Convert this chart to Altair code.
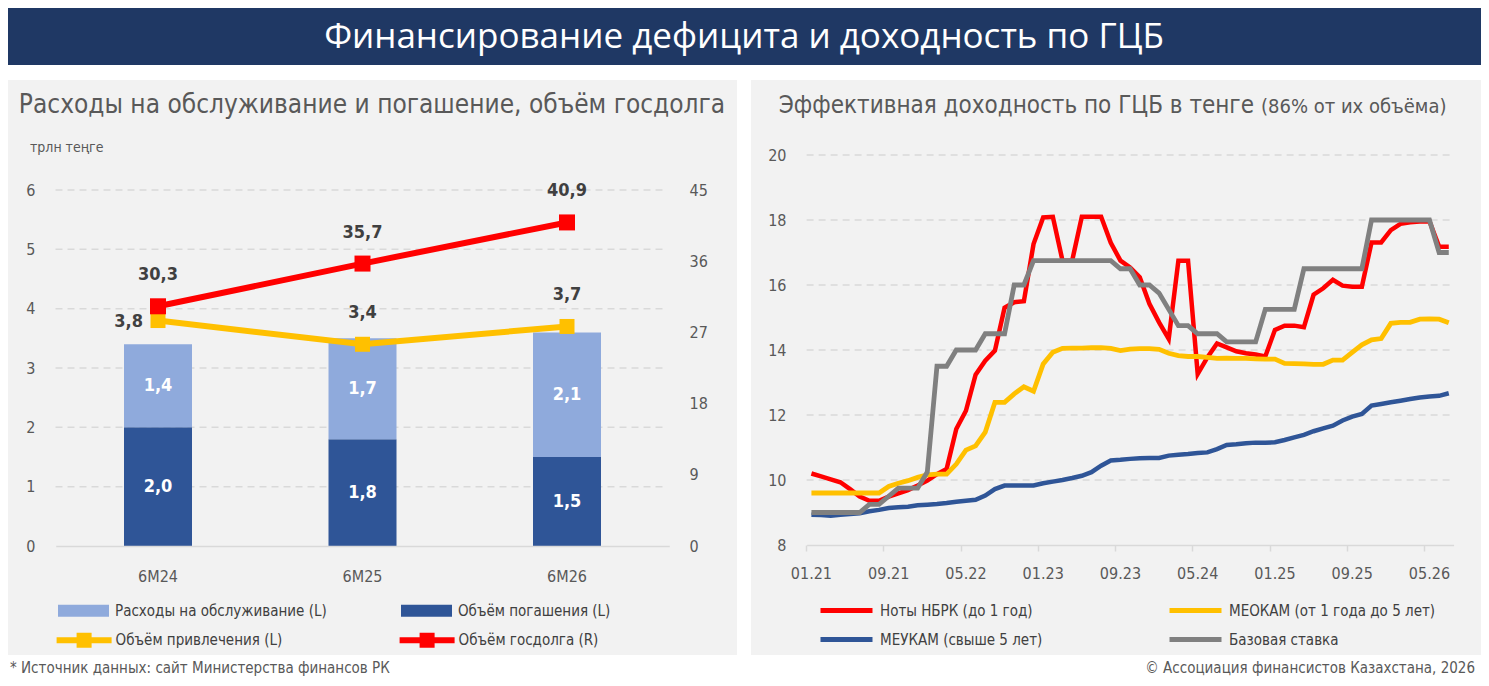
import altair as alt
import pandas as pd

COND = "'Liberation Sans Narrow', 'DejaVu Sans Condensed', 'Roboto Condensed', Roboto, sans-serif"
HEAD = "'Open Sans', 'Noto Sans', sans-serif"
GRAY_TXT = "#595959"
DARK_TXT = "#404040"
GRID = "#D9D9D9"

# ---------------- left chart data ----------------
periods = ["6M24", "6M25", "6M26"]
service_costs = [1.4, 1.7, 2.1]      # Расходы на обслуживание (L)
repayment = [2.0, 1.8, 1.5]          # Объём погашения (L)
borrowing = [3.8, 3.4, 3.7]          # Объём привлечения (L)
gov_debt = [30.3, 35.7, 40.9]        # Объём госдолга (R)
left_y_ticks = [0, 1, 2, 3, 4, 5, 6]
right_y_ticks = [0, 9, 18, 27, 36, 45]

SERVICE = "Расходы на обслуживание (L)"
REPAY = "Объём погашения (L)"
BORROW = "Объём привлечения (L)"
DEBT = "Объём госдолга (R)"

# ---------------- right chart data (monthly, 01.21 - 07.26) ----------------
months = [f"{y}-{m:02d}" for y in range(2021, 2027) for m in range(1, 13)][:67]
tick_months = ["2021-01", "2021-09", "2022-05", "2023-01", "2023-09",
               "2024-05", "2025-01", "2025-09", "2026-05"]
yield_ticks = [8, 10, 12, 14, 16, 18, 20]

notes = [10.2, 10.11, 10.02, 9.93, 9.72, 9.49, 9.36, 9.36, 9.49, 9.59, 9.69, 9.83,
         9.98, 10.18, 10.34, 11.57, 12.13, 13.24, 13.67, 13.98, 15.3, 15.47, 15.5, 17.26,
         18.08, 18.1, 16.75, 16.75, 18.1, 18.1, 18.1, 17.3, 16.75, 16.54, 16.24, 15.42,
         14.85, 14.34, 16.75, 16.75, 13.26, 13.77, 14.2, 14.08, 13.96, 13.9, 13.86, 13.8,
         14.62, 14.75, 14.75, 14.7, 15.7, 15.9, 16.16, 15.98, 15.95, 15.95, 17.31, 17.31,
         17.69, 17.88, 17.93, 17.95, 17.96, 17.18, 17.18]
meokam = [9.6, 9.6, 9.6, 9.6, 9.6, 9.6, 9.6, 9.6, 9.8, 9.9, 9.98, 10.08,
          10.16, 10.18, 10.18, 10.49, 10.92, 11.05, 11.47, 12.39, 12.39, 12.65, 12.87, 12.73,
          13.57, 13.93, 14.05, 14.06, 14.06, 14.07, 14.07, 14.05, 13.98, 14.03, 14.04, 14.04,
          14.02, 13.9, 13.83, 13.8, 13.8, 13.77, 13.74, 13.75, 13.74, 13.74, 13.73, 13.72,
          13.72, 13.59, 13.58, 13.57, 13.56, 13.56, 13.69, 13.69, 13.93, 14.16, 14.31, 14.35,
          14.82, 14.85, 14.85, 14.95, 14.96, 14.95, 14.84]
meukam = [8.93, 8.92, 8.9, 8.93, 8.95, 8.98, 9.04, 9.08, 9.14, 9.16, 9.18, 9.22,
          9.24, 9.26, 9.29, 9.33, 9.36, 9.39, 9.52, 9.72, 9.83, 9.83, 9.83, 9.83,
          9.9, 9.95, 10.0, 10.06, 10.13, 10.24, 10.44, 10.6, 10.62, 10.65, 10.67, 10.68,
          10.68, 10.75, 10.78, 10.8, 10.83, 10.85, 10.95, 11.08, 11.1, 11.13, 11.15, 11.15,
          11.16, 11.23, 11.31, 11.39, 11.5, 11.59, 11.67, 11.83, 11.95, 12.03, 12.29, 12.34,
          12.39, 12.44, 12.49, 12.54, 12.57, 12.59, 12.67]
base_rate = [9.0, 9.0, 9.0, 9.0, 9.0, 9.0, 9.25, 9.25, 9.5, 9.75, 9.75, 9.75,
             10.25, 13.5, 13.5, 14.0, 14.0, 14.0, 14.5, 14.5, 14.5, 16.0, 16.0, 16.75,
             16.75, 16.75, 16.75, 16.75, 16.75, 16.75, 16.75, 16.75, 16.5, 16.5, 16.0, 16.0,
             15.75, 15.25, 14.75, 14.75, 14.5, 14.5, 14.5, 14.25, 14.25, 14.25, 14.25, 15.25,
             15.25, 15.25, 15.25, 16.5, 16.5, 16.5, 16.5, 16.5, 16.5, 16.5, 18.0, 18.0,
             18.0, 18.0, 18.0, 18.0, 18.0, 17.0, 17.0]

NOTES = "Ноты НБРК (до 1 год)"
MEOKAM = "МЕОКАМ (от 1 года до 5 лет)"
MEUKAM = "МЕУКАМ (свыше 5 лет)"
BASE = "Базовая ставка"

# ---------------- tables ----------------
bar_rows = []
for p, s, r in zip(periods, service_costs, repayment):
    bar_rows.append({"period": p, "series": REPAY, "v": r, "k": 0})
    bar_rows.append({"period": p, "series": SERVICE, "v": s, "k": 1})
bar_df = pd.DataFrame(bar_rows)
left_df = pd.DataFrame({"period": periods, "borrow": borrowing, "debt": gov_debt})

right_rows = []
for i, m in enumerate(months):
    right_rows.append({"month": m, "series": NOTES, "v": notes[i]})
    right_rows.append({"month": m, "series": MEUKAM, "v": meukam[i]})
    right_rows.append({"month": m, "series": MEOKAM, "v": meokam[i]})
    right_rows.append({"month": m, "series": BASE, "v": base_rate[i]})
right_df = pd.DataFrame(right_rows)

one = alt.Data(values=[{"k": 1}])


def rect(x1, x2, y1, y2, color):
    return alt.Chart(one).mark_rect(color=color).encode(
        x=alt.value(x1), x2=alt.value(x2), y=alt.value(y1), y2=alt.value(y2))


def label(text, x, y, size, font=COND, color=GRAY_TXT, align="left", weight="normal"):
    return alt.Chart(one).mark_text(text=text, font=font, fontSize=size, color=color,
                                    align=align, baseline="middle", fontWeight=weight).encode(
        x=alt.value(x), y=alt.value(y))


J = 1246
background = [
    rect(0, 1473, 0, 57, "#1F3864"),
    rect(0, 729, 72, 647, "#F2F2F2"),
    rect(743, 1473, 72, 647, "#F2F2F2"),
    label("Финансирование дефицита и доходность по ГЦБ", 736, 29, 35, HEAD, "white", "center"),
    label("Расходы на обслуживание и погашение, объём госдолга", 364, 97, 26, COND, GRAY_TXT, "center"),
    label("трлн теңге", 22, 140, 14),
    label("Эффективная доходность по ГЦБ в тенге", J, 98, 24, COND, GRAY_TXT, "right"),
    label("(86% от их объёма)", J + 7, 99, 20, COND, GRAY_TXT, "left"),
    label("* Источник данных: сайт Министерства финансов РК", 2, 660, 15),
    label("© Ассоциация финансистов Казахстана, 2026", 1467, 660, 15, align="right"),
]

AX_FONT = 16
LEG_FONT = 15
VAL_FONT = 18

# ---------------- left chart ----------------
XL = alt.X("period:N", title=None,
           scale=alt.Scale(type="band", domain=periods, range=[47.75, 661.25],
                           paddingInner=0.6675, paddingOuter=0.33375),
           axis=alt.Axis(orient="bottom", offset=-132, domain=True, domainColor=GRID, domainWidth=1.5,
                         ticks=False, tickSize=0, labelPadding=22, labelAngle=0, labelFont=COND,
                         labelFontSize=AX_FONT, labelColor=GRAY_TXT, grid=False, title=None, zindex=1))
YL_scale = alt.Scale(domain=[0, 6], range=[538, 182], nice=False, zero=False)
YL_axis = alt.Axis(orient="left", offset=-27, values=left_y_ticks, domain=False, ticks=False, tickSize=0,
                   labelPadding=0, grid=False, labelFont=COND, labelFontSize=AX_FONT,
                   labelColor=GRAY_TXT, title=None, zindex=1)
YR_scale = alt.Scale(domain=[0, 45], range=[538, 182], nice=False, zero=False)
YR_axis = alt.Axis(orient="right", offset=-792, values=right_y_ticks, domain=False, ticks=False, tickSize=0,
                   labelPadding=0, grid=False, labelFont=COND, labelFontSize=AX_FONT, labelColor=GRAY_TXT,
                   title=None, zindex=1)


def yl(field):
    return alt.Y(field, scale=YL_scale, axis=YL_axis, title=None)


left_grid = alt.Chart(pd.DataFrame({"t": left_y_ticks[1:]})).mark_rule(
    color=GRID, strokeDash=[7, 5], strokeWidth=1.5).encode(
    y=yl("t:Q"), x=alt.value(47.5), x2=alt.value(657.5))

bar_base = alt.Chart(bar_df).transform_stack(
    stack="v", groupby=["period"], sort=[alt.SortField("k", order="ascending")], as_=["y0", "y1"]
).transform_calculate(mid="(datum.y0 + datum.y1) / 2",
                      lab="replace(format(datum.v, '.1f'), '.', ',')")

bars = bar_base.mark_bar().encode(
    x=XL,
    y=yl("y0:Q"),
    y2="y1:Q",
    color=alt.Color("series:N", scale=alt.Scale(domain=[SERVICE, REPAY], range=["#8FAADC", "#2F5597"]),
                    legend=alt.Legend(orient="none", legendX=50, legendY=577, direction="horizontal",
                                      columns=2, columnPadding=74, title=None,
                                      symbolType="M-1,-0.235H1V0.235H-1Z", symbolSize=2601,
                                      symbolStrokeWidth=0, labelFont=COND, labelFontSize=LEG_FONT,
                                      labelColor=DARK_TXT, labelLimit=600, labelOffset=6, padding=0)),
)
bar_labels = bar_base.mark_text(color="white", font=COND, fontSize=VAL_FONT, fontWeight="bold",
                                baseline="middle").encode(x=XL, y=yl("mid:Q"), text="lab:N")

FILL = alt.Fill("name:N", scale=alt.Scale(domain=[BORROW, DEBT], range=["#FFC000", "#FF0000"]),
                legend=alt.Legend(orient="none", legendX=48.6, legendY=604.5, direction="horizontal",
                                  columns=2, columnPadding=117, title=None,
                                  symbolType="M-1,-0.109H1V0.109H-1Z M-0.273,-0.273H0.273V0.273H-0.273Z",
                                  symbolSize=3025, symbolStrokeWidth=0, labelFont=COND,
                                  labelFontSize=LEG_FONT, labelColor=DARK_TXT, labelLimit=600,
                                  labelOffset=4, padding=0))

lbase = alt.Chart(left_df).transform_calculate(
    bl="replace(format(datum.borrow, '.1f'), '.', ',')",
    dl="replace(format(datum.debt, '.1f'), '.', ',')",
)
y_borrow = yl("borrow:Q")
yline = lbase.mark_line(color="#FFC000", strokeWidth=6).encode(x=XL, y=y_borrow)
ypoints = lbase.transform_calculate(name=f"'{BORROW}'").mark_square(size=225, opacity=1).encode(
    x=XL, y=y_borrow, fill=FILL)
ylab_first = lbase.transform_filter("datum.period == '6M24'").mark_text(
    font=COND, fontSize=VAL_FONT, fontWeight="bold", color=DARK_TXT, align="right", dx=-15, dy=1,
    baseline="middle").encode(x=XL, y=y_borrow, text="bl:N")
ylab_rest = lbase.transform_filter("datum.period != '6M24'").mark_text(
    font=COND, fontSize=VAL_FONT, fontWeight="bold", color=DARK_TXT, dy=-31,
    baseline="middle").encode(x=XL, y=y_borrow, text="bl:N")

y_debt = alt.Y("debt:Q", scale=YR_scale, axis=YR_axis, title=None)
rline = lbase.mark_line(color="#FF0000", strokeWidth=6).encode(x=XL, y=y_debt)
rpoints = lbase.transform_calculate(name=f"'{DEBT}'").mark_square(size=256, opacity=1).encode(
    x=XL, y=y_debt, fill=FILL)
rlab = lbase.mark_text(font=COND, fontSize=VAL_FONT, fontWeight="bold", color=DARK_TXT, dy=-31,
                       baseline="middle").encode(x=XL, y=y_debt, text="dl:N")

left = alt.layer(
    alt.layer(left_grid, bars, bar_labels, yline, ypoints, ylab_first, ylab_rest),
    alt.layer(rline, rpoints, rlab),
).resolve_scale(y="independent")

# ---------------- right chart ----------------
XR = alt.X("month:N", title=None,
           scale=alt.Scale(type="band", domain=months, range=[798.6, 1445.6], paddingInner=0, paddingOuter=0),
           axis=alt.Axis(orient="bottom", offset=-133, values=tick_months, bandPosition=0,
                         labelExpr="substring(datum.value, 5, 7) + '.' + substring(datum.value, 2, 4)",
                         domainColor=GRID, domainWidth=1.5, ticks=True, tickColor=GRID, tickWidth=1.5,
                         tickSize=6, labelPadding=14, labelAngle=0, labelFont=COND, labelFontSize=AX_FONT,
                         labelColor=GRAY_TXT, grid=False, title=None, zindex=1))
YY_scale = alt.Scale(domain=[8, 20], range=[537, 147], nice=False, zero=False)
YY_axis = alt.Axis(orient="left", offset=-778, values=yield_ticks, domain=False, ticks=False,
                   tickSize=0, labelPadding=0, grid=False, labelFont=COND, labelFontSize=AX_FONT,
                   labelColor=GRAY_TXT, title=None, zindex=1)


def yy(field):
    return alt.Y(field, scale=YY_scale, axis=YY_axis, title=None)


def line_legend(x, y):
    return alt.Legend(orient="none", legendX=x, legendY=y, direction="vertical", title=None,
                      symbolType="M-2.6,0H2.6", symbolSize=400, symbolStrokeWidth=5,
                      labelFont=COND, labelFontSize=LEG_FONT, labelColor=DARK_TXT, labelLimit=600,
                      labelOffset=21, rowPadding=6, padding=0)


right_grid = alt.Chart(pd.DataFrame({"t": yield_ticks[1:]})).mark_rule(
    color=GRID, strokeDash=[7, 5], strokeWidth=1.5).encode(
    y=yy("t:Q"), x=alt.value(798.6), x2=alt.value(1445.6))

lines_a = alt.Chart(right_df).transform_filter(
    alt.FieldOneOfPredicate(field="series", oneOf=[NOTES, MEUKAM])
).mark_line(strokeWidth=4.5).encode(
    x=XR, y=yy("v:Q"),
    stroke=alt.Stroke("series:N", scale=alt.Scale(domain=[NOTES, MEUKAM], range=["#FF0000", "#2F5597"]),
                      legend=line_legend(826, 590)))
lines_b = alt.Chart(right_df).transform_filter(
    alt.FieldOneOfPredicate(field="series", oneOf=[MEOKAM, BASE])
).mark_line(strokeWidth=4.8).encode(
    x=XR, y=yy("v:Q"),
    color=alt.Color("series:N", scale=alt.Scale(domain=[MEOKAM, BASE], range=["#FFC000", "#808080"]),
                    legend=line_legend(1175, 590)))

right = alt.layer(right_grid, lines_a, lines_b)

chart = alt.layer(*background, left, right).resolve_scale(
    x="independent", y="independent", color="independent"
).properties(
    width=1473, height=670, padding=0, autosize=alt.AutoSizeParams(type="none"), background="white"
).configure_view(stroke=None)

chart.save("out.html", embed_options={"renderer": "svg", "actions": False})
